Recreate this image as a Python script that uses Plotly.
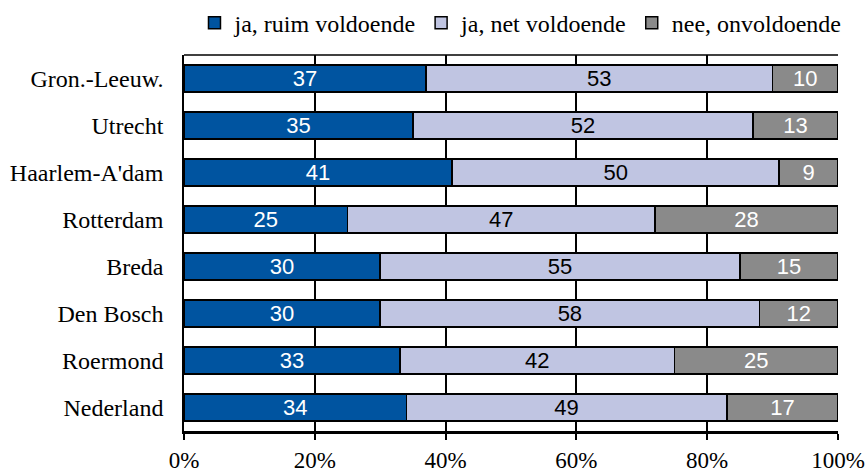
import plotly.graph_objects as go

regions = ["Gron.-Leeuw.", "Utrecht", "Haarlem-A'dam", "Rotterdam", "Breda", "Den Bosch", "Roermond", "Nederland"]
ruim = [37, 35, 41, 25, 30, 30, 33, 34]
net = [53, 52, 50, 47, 55, 58, 42, 49]
onvoldoende = [10, 13, 9, 28, 15, 12, 25, 17]
pct_ticks = [0, 20, 40, 60, 80, 100]
pct_labels = ["0%", "20%", "40%", "60%", "80%", "100%"]

series = [
    ("ja, ruim voldoende", ruim, "#0054a0", "white"),
    ("ja, net voldoende", net, "#c0c5e2", "black"),
    ("nee, onvoldoende", onvoldoende, "#8a8a8a", "white"),
]

serif = "Liberation Serif"

fig = go.Figure()
for name, vals, color, tcolor in series:
    fig.add_trace(go.Bar(
        y=regions, x=vals, name=name, orientation="h",
        marker=dict(color=color, line=dict(color="black", width=1.5)),
        text=vals, textposition="inside", insidetextanchor="middle", textangle=0,
        constraintext="none",
        textfont=dict(family="Liberation Sans", size=22, color=tcolor),
        hoverinfo="x+y+name",
    ))

fig.update_layout(
    barmode="stack",
    bargap=0.42,
    width=865, height=472,
    margin=dict(l=184, r=27, t=55, b=41, autoexpand=False),
    plot_bgcolor="white", paper_bgcolor="white",
    font=dict(family=serif, size=24, color="black"),
    legend=dict(orientation="h", x=0.5145, xanchor="center", y=1.025, yanchor="bottom",
                font=dict(family=serif, size=24, color="black"),
                traceorder="normal", itemwidth=30, tracegroupgap=0),
    uniformtext=dict(minsize=10, mode="show"),
    showlegend=True,
)
fig.update_xaxes(
    range=[0, 100], tickvals=pct_ticks, ticktext=pct_labels,
    showgrid=True, gridcolor="black", gridwidth=1.5,
    showline=True, linecolor="black", linewidth=3,
    ticks="outside", ticklen=6, tickcolor="black", tickwidth=1.5,
    zeroline=False, fixedrange=True, automargin=False,
    tickfont=dict(family=serif, size=23),
)
fig.update_yaxes(
    autorange="reversed", showline=True, linecolor="black", linewidth=1.5,
    ticks="", ticklabelstandoff=14, showgrid=False, fixedrange=True, automargin=False,
    tickfont=dict(family=serif, size=24),
)
fig.add_shape(type="line", xref="paper", yref="paper", x0=0, x1=1, y0=1, y1=1,
              line=dict(color="black", width=1.5))

fig.write_html("out.html", config={"displayModeBar": False})

# drop the default body margin so the figure sits at the page corner
with open("out.html", "r", encoding="utf-8") as f:
    page = f.read()
page = page.replace("<body>", '<body style="margin:0">', 1)
with open("out.html", "w", encoding="utf-8") as f:
    f.write(page)
